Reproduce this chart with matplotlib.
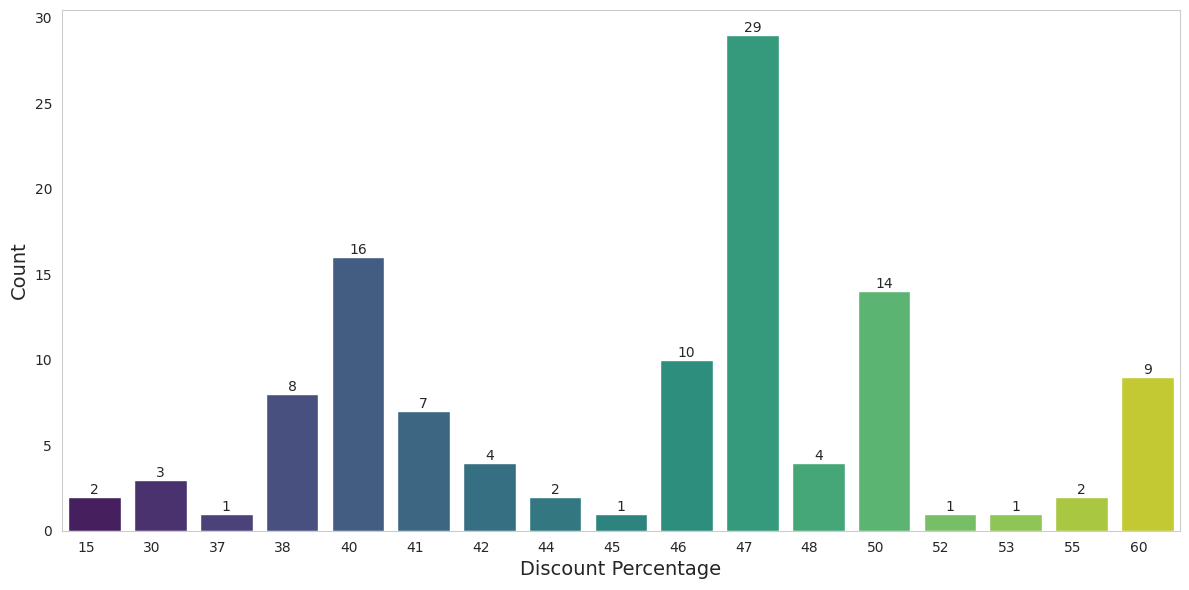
import matplotlib
matplotlib.use("Agg")
import matplotlib.pyplot as plt
import seaborn as sns
import pandas as pd

discounts = ['15', '30', '37', '38', '40', '41', '42', '44', '45',
             '46', '47', '48', '50', '52', '53', '55', '60']
counts = [2, 3, 1, 8, 16, 7, 4, 2, 1, 10, 29, 4, 14, 1, 1, 2, 9]

df = pd.DataFrame({'discount': discounts, 'count': counts})

sns.set_style("whitegrid")
fig, ax = plt.subplots(figsize=(11.89, 5.9), dpi=100)
sns.barplot(data=df, x='discount', y='count', hue='discount',
            palette='viridis', legend=False, ax=ax)
for c in ax.containers:
    ax.bar_label(c, fontsize=10)
ax.grid(False)
for s in ax.spines.values():
    s.set_color('#cccccc')
ax.set_xlabel('Discount Percentage', fontsize=14)
ax.set_ylabel('Count', fontsize=14)
plt.xticks(ha='right')
plt.subplots_adjust(left=0.052, right=0.9925, top=0.983, bottom=0.1)
plt.savefig('out.png')
